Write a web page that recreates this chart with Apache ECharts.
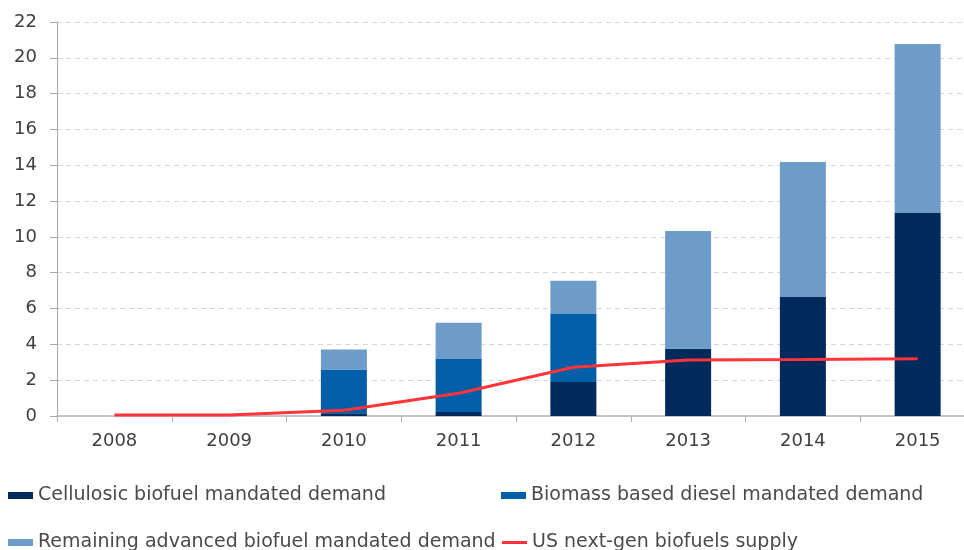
<!DOCTYPE html>
<html>
<head>
<meta charset="utf-8">
<script src="https://cdn.jsdelivr.net/npm/echarts@6/dist/echarts.min.js"></script>
<style>
  html, body { margin: 0; padding: 0; background: #fff; }
  #main { width: 964px; height: 550px; }
</style>
</head>
<body>
<div id="main"></div>
<script>
// data
var years = ['2008', '2009', '2010', '2011', '2012', '2013', '2014', '2015'];
var cellulosic = [0, 0, 0.15, 0.22, 1.9, 3.75, 6.64, 11.33];
var biomassDiesel = [0, 0, 2.44, 2.96, 3.8, 0, 0, 0];
var remainingAdvanced = [0, 0, 1.13, 2.02, 1.85, 6.58, 7.54, 9.44];
var nextGenSupply = [0.05, 0.05, 0.32, 1.27, 2.72, 3.13, 3.15, 3.2];

var names = [
    'Cellulosic biofuel mandated demand',
    'Biomass based diesel mandated demand',
    'Remaining advanced biofuel mandated demand',
    'US next-gen biofuels supply'
];

var font = 'DejaVu Sans';
var textColor = '#404040';

function legendAt(name, left, top, h) {
    return {
        data: [name],
        left: left,
        top: top,
        padding: 0,
        icon: 'rect',
        itemWidth: 25,
        itemHeight: h,
        selectedMode: false,
        textStyle: { fontFamily: font, fontSize: 19, color: '#4a4a4a' }
    };
}

var chart = echarts.init(document.getElementById('main'));
chart.setOption({
    animation: false,
    grid: {
        left: 57,
        right: -11,
        top: 22,
        bottom: 134,
        outerBoundsMode: 'none'
    },
    legend: [
        legendAt(names[0], 8, 486, 7),
        legendAt(names[1], 501, 486, 7),
        legendAt(names[2], 8, 533, 7),
        legendAt(names[3], 502, 533, 3)
    ],
    xAxis: {
        type: 'category',
        data: years,
        boundaryGap: true,
        axisLine: { lineStyle: { color: '#c4c4c4', width: 2 } },
        axisTick: { show: true, interval: 0, length: 6, lineStyle: { color: '#b0b0b0' } },
        axisLabel: { margin: 16, fontFamily: font, fontSize: 18, color: textColor }
    },
    yAxis: {
        type: 'value',
        min: 0,
        max: 22,
        interval: 2,
        axisLine: { show: true, lineStyle: { color: '#a6a6a6' } },
        axisTick: { show: true, length: 7, lineStyle: { color: '#a6a6a6' } },
        axisLabel: { margin: 20, fontFamily: font, fontSize: 18, color: textColor },
        splitLine: { lineStyle: { color: '#d6d6d6', type: [5, 4] } }
    },
    series: [
        {
            name: names[0],
            type: 'bar',
            stack: 'demand',
            barWidth: 46,
            itemStyle: { color: '#002a5c' },
            data: cellulosic
        },
        {
            name: names[1],
            type: 'bar',
            stack: 'demand',
            barWidth: 46,
            itemStyle: { color: '#005fa8' },
            data: biomassDiesel
        },
        {
            name: names[2],
            type: 'bar',
            stack: 'demand',
            barWidth: 46,
            itemStyle: { color: '#6e9cc9' },
            data: remainingAdvanced
        },
        {
            name: names[3],
            type: 'line',
            symbol: 'none',
            z: 5,
            itemStyle: { color: '#ff3338' },
            lineStyle: { color: '#ff3338', width: 3 },
            data: nextGenSupply
        }
    ]
});
</script>
</body>
</html>
